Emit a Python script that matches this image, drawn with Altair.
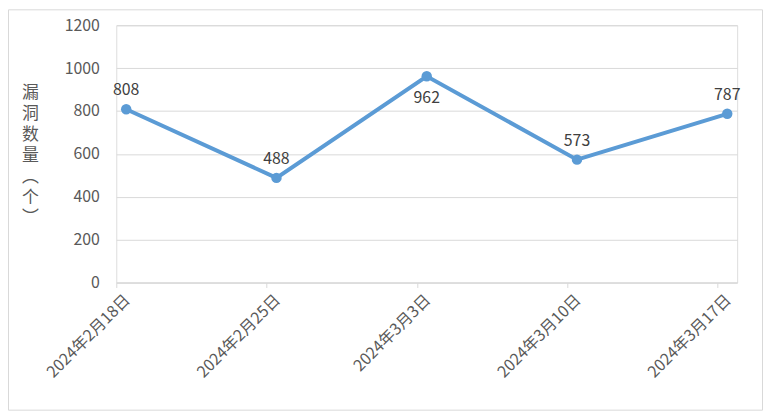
import altair as alt
import pandas as pd

dates = ["2024年2月18日", "2024年2月25日", "2024年3月3日", "2024年3月10日", "2024年3月17日"]
counts = [808, 488, 962, 573, 787]
label_side = ["above", "above", "below", "above", "above"]

y_title = ["漏", "洞", "数", "量", "︵", "个", "︶"]
y_ticks = [0, 200, 400, 600, 800, 1000, 1200]

df = pd.DataFrame({"date": dates, "count": counts, "side": label_side})

FONT = "Noto Sans CJK SC"
W, H = 625, 259
PAD = {"left": 109, "top": 16, "right": 26, "bottom": 129}

x_enc = alt.X(
    "date:N", sort=dates,
    scale=alt.Scale(type="point", padding=0.066),
    axis=alt.Axis(
        title=None, labelAngle=-45, labelFontSize=16, labelColor="#595959",
        labelFont=FONT, domainColor="#D9D9D9", tickColor="#D9D9D9", tickSize=5,
        tickOffset=-10, grid=False, labelPadding=4, labelOffset=5,
    ),
)
y_enc = alt.Y(
    "count:Q",
    scale=alt.Scale(domain=[0, 1200], nice=False),
    axis=alt.Axis(
        values=y_ticks, format="d", ticks=False, domain=False, grid=True, gridColor="#D9D9D9",
        labelFontSize=16, labelColor="#595959", labelFont=FONT, labelPadding=17,
        title=y_title, titleAngle=0, titleAlign="center", titleBaseline="top",
        titleX=-87, titleY=60, titleFontSize=17, titleFontWeight="normal",
        titleColor="#595959", titleFont=FONT, titleLineHeight=21,
    ),
)

base = alt.Chart(df)

line = base.mark_line(color="#5B9BD5", strokeWidth=4).encode(x=x_enc, y=y_enc)
points = base.mark_circle(color="#5B9BD5", size=110, opacity=1).encode(x=x_enc, y=y_enc)

labels_above = base.transform_filter(alt.datum.side == "above").mark_text(
    dy=-19, fontSize=16, font=FONT, color="#404040", baseline="middle"
).encode(x=x_enc, y=y_enc, text="count:Q")
labels_below = base.transform_filter(alt.datum.side == "below").mark_text(
    dy=22, fontSize=16, font=FONT, color="#404040", baseline="middle"
).encode(x=x_enc, y=y_enc, text="count:Q")

total_w = PAD["left"] + W + PAD["right"]
total_h = PAD["top"] + H + PAD["bottom"]
border = alt.Chart(pd.DataFrame({"a": [0]})).mark_rect(
    fill="transparent", stroke="#D9D9D9", strokeWidth=1
).encode(
    x=alt.value(-PAD["left"] + 0.5), x2=alt.value(total_w - PAD["left"] - 0.5),
    y=alt.value(-PAD["top"] + 0.5), y2=alt.value(total_h - PAD["top"] - 0.5),
)

chart = alt.layer(border, line, points, labels_above, labels_below).properties(
    width=W, height=H,
    autosize=alt.AutoSizeParams(type="none"),
    padding=PAD,
).configure_view(stroke=None).configure(background="white")

chart.save("out.html", embed_options={"renderer": "svg", "actions": False})
